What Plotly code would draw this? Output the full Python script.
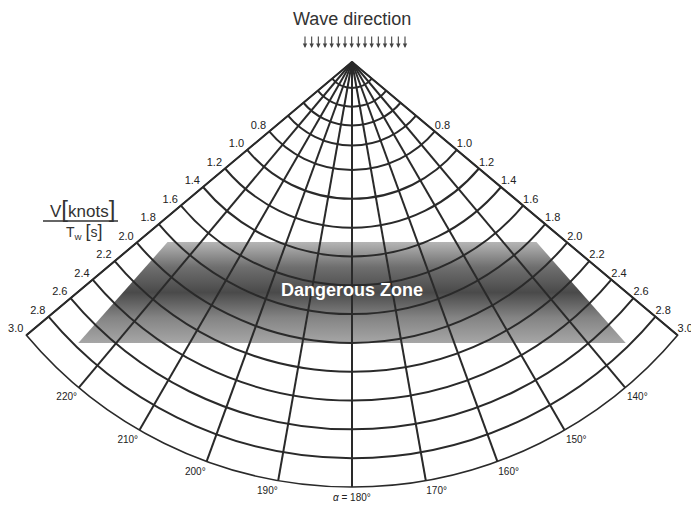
import math
import plotly.graph_objects as go

# ---------------- data ----------------
ray_angles = [130, 140, 150, 160, 170, 180, 190, 200, 210, 220, 230]
ray_labels = ["", "140°", "150°", "160°", "170°", "<i>α</i> = 180°",
              "190°", "200°", "210°", "220°", ""]
arc_values = [0.23, 0.36, 0.49, 0.63, 0.8, 1.0, 1.2, 1.4, 1.6, 1.8,
              2.0, 2.2, 2.4, 2.6, 2.8, 3.0]
speed_labels = [0.8, 1.0, 1.2, 1.4, 1.6, 1.8, 2.0, 2.2, 2.4, 2.6, 2.8, 3.0]
zone_depth = [1.3, 2.0]          # top / bottom of the dangerous zone (V/Tw units)
zone_half_width = [1.28, 1.9]    # half width at top / bottom (same units)
zone_title = "Dangerous Zone"
wave_title = "Wave direction"
n_arrows = 16

# ---------------- geometry / style ----------------
W, H = 691, 506
APEX_X, APEX_Y = 352, 62
R_PX = 425
R_MIN, R_MAX = 0.05, 3.0
S = R_PX / (R_MAX - R_MIN)
HALF = 50
FONT = "Liberation Sans, Arial, sans-serif"
INK = "#2a2a2a"
LW = 1.6

half_w = R_PX * math.sin(math.radians(HALF))
pdom_x = [(APEX_X - half_w) / W, (APEX_X + half_w) / W]
pdom_y = [1 - (APEX_Y + R_PX) / H, 1 - APEX_Y / H]

# the 180° label is drawn separately (just below the arc, like the original)
mid = ray_angles.index(180)
tick_text = [t if i != mid else "" for i, t in enumerate(ray_labels)]

fig = go.Figure()

# dangerous zone (cartesian layer, below the polar grid)
hw0, hw1 = zone_half_width
d0, d1 = zone_depth
fig.add_trace(go.Scatter(
    x=[-hw0, hw0, hw1, -hw1, -hw0],
    y=[d0, d0, d1, d1, d0],
    mode="lines", fill="toself", line=dict(width=0),
    fillgradient=dict(type="vertical",
                      colorscale=[[0, "#a6a6a6"], [0.25, "#848484"],
                                  [0.5, "#4a4a4a"], [0.75, "#6e6e6e"],
                                  [1, "#b5b5b5"]]),
    hoverinfo="skip", showlegend=False, xaxis="x", yaxis="y"))

# radial labels on both edges
fig.add_trace(go.Scatterpolar(
    r=speed_labels, theta=[ray_angles[-1]] * len(speed_labels),
    text=[f"{v:.1f} " for v in speed_labels], mode="text", textposition="top left",
    textfont=dict(size=11, color="#222", family=FONT),
    cliponaxis=False, showlegend=False, hoverinfo="skip"))
fig.add_trace(go.Scatterpolar(
    r=speed_labels, theta=[ray_angles[0]] * len(speed_labels),
    text=[f"{v:.1f}" for v in speed_labels], mode="text", textposition="top right",
    textfont=dict(size=11, color="#222", family=FONT),
    cliponaxis=False, showlegend=False, hoverinfo="skip"))

fig.update_layout(
    width=W, height=H,
    margin=dict(l=0, r=0, t=0, b=0),
    paper_bgcolor="white", plot_bgcolor="rgba(0,0,0,0)",
    font=dict(family=FONT, color=INK),
    showlegend=False,
    xaxis=dict(range=[(0 - APEX_X) / S, (W - APEX_X) / S], domain=[0, 1],
               visible=False, fixedrange=True),
    yaxis=dict(range=[R_MIN + (H - APEX_Y) / S, R_MIN - APEX_Y / S],
               domain=[0, 1], visible=False, fixedrange=True),
    polar=dict(
        domain=dict(x=pdom_x, y=pdom_y),
        sector=[-90 - HALF, -90 + HALF],
        bgcolor="rgba(0,0,0,0)",
        radialaxis=dict(range=[R_MIN, R_MAX], tickvals=arc_values,
                        showticklabels=False, ticks="", showline=False,
                        gridcolor=INK, gridwidth=LW),
        angularaxis=dict(rotation=90, direction="clockwise",
                         tickmode="array", tickvals=ray_angles,
                         ticktext=tick_text, ticks="",
                         showline=True, linecolor=INK, linewidth=LW,
                         showgrid=True, gridcolor=INK, gridwidth=LW,
                         tickfont=dict(size=10, color="#222", family=FONT)),
    ),
)

ann = []
ann.append(dict(text=wave_title, x=APEX_X / W, y=1 - 19 / H, xref="paper", yref="paper",
                xanchor="center", yanchor="middle",
                showarrow=False, font=dict(size=18, color="#333", family=FONT)))
ann.append(dict(text=f"<b>{zone_title}</b>", x=APEX_X / W, y=1 - 290 / H,
                xref="paper", yref="paper", xanchor="center", yanchor="middle",
                showarrow=False, font=dict(size=18, color="white", family=FONT)))
ann.append(dict(text=ray_labels[mid], x=APEX_X / W, y=1 - 497 / H,
                xref="paper", yref="paper", xanchor="center", yanchor="middle",
                showarrow=False, font=dict(size=10, color="#222", family=FONT)))
ann.append(dict(text="V<span style='font-size:24px'>[</span>knots<span style='font-size:24px'>]</span>",
                x=82 / W, y=1 - 208 / H, xref="paper", yref="paper",
                xanchor="center", yanchor="middle", showarrow=False,
                font=dict(size=17, color="#333", family=FONT)))
ann.append(dict(text="T<sub>w</sub> <span style='font-size:18px'>[</span>s<span style='font-size:18px'>]</span>",
                x=84 / W, y=1 - 231 / H, xref="paper", yref="paper",
                xanchor="center", yanchor="middle", showarrow=False,
                font=dict(size=14, color="#333", family=FONT)))
for i in range(n_arrows):
    xp = 305 + i * 100 / (n_arrows - 1)
    ann.append(dict(text="", x=xp / W, y=1 - 48 / H, xref="paper", yref="paper",
                    showarrow=True, ax=0, ay=-13, arrowhead=2, arrowsize=0.8,
                    arrowwidth=1.1, arrowcolor="#444"))
fig.update_layout(annotations=ann)
fig.add_shape(type="line", xref="paper", yref="paper",
              x0=43 / W, x1=118 / W, y0=1 - 221 / H, y1=1 - 221 / H,
              line=dict(color="#333", width=1.5))

fig.write_html("out.html",
               config={"displayModeBar": False},
               post_script="document.body.style.margin='0';"
                           "document.body.style.overflow='hidden';")
